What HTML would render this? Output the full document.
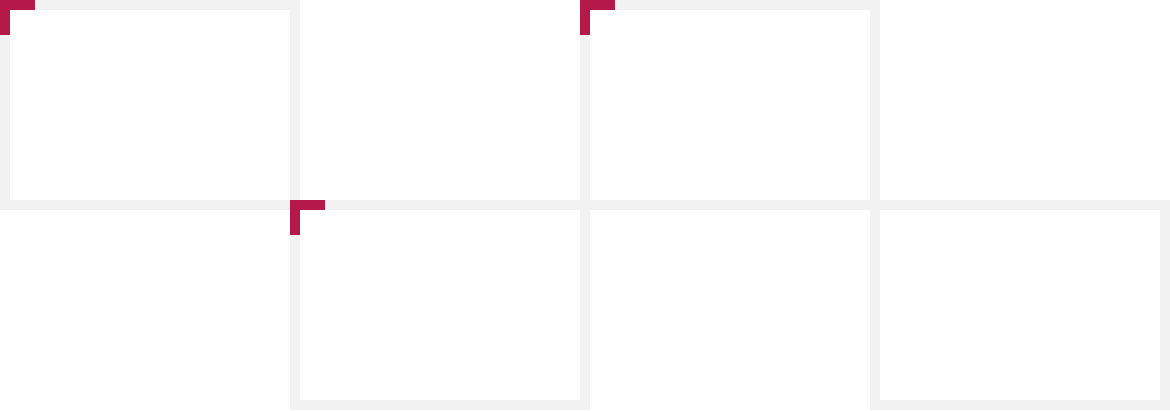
<!DOCTYPE html>
<html><head><meta charset="utf-8"><style>
html,body{margin:0;padding:0;background:#fff;}
body{width:1170px;height:411px;position:relative;overflow:hidden;font-family:"Liberation Sans",sans-serif;}
.box{position:absolute;width:280px;height:190px;border:10px solid #f2f2f2;box-sizing:content-box;}
.c{position:absolute;background:#b5194a;}
</style></head><body>
<div class="box" style="left:0;top:0;"></div>
<div class="box" style="left:580px;top:0;"></div>
<div class="box" style="left:290px;top:200px;"></div>
<div class="box" style="left:870px;top:200px;"></div>
<div class="c" style="left:0;top:0;width:35px;height:10px;"></div>
<div class="c" style="left:0;top:0;width:10px;height:35px;"></div>
<div class="c" style="left:580px;top:0;width:35px;height:10px;"></div>
<div class="c" style="left:580px;top:0;width:10px;height:35px;"></div>
<div class="c" style="left:290px;top:200px;width:35px;height:10px;"></div>
<div class="c" style="left:290px;top:200px;width:10px;height:35px;"></div>
</body></html>
